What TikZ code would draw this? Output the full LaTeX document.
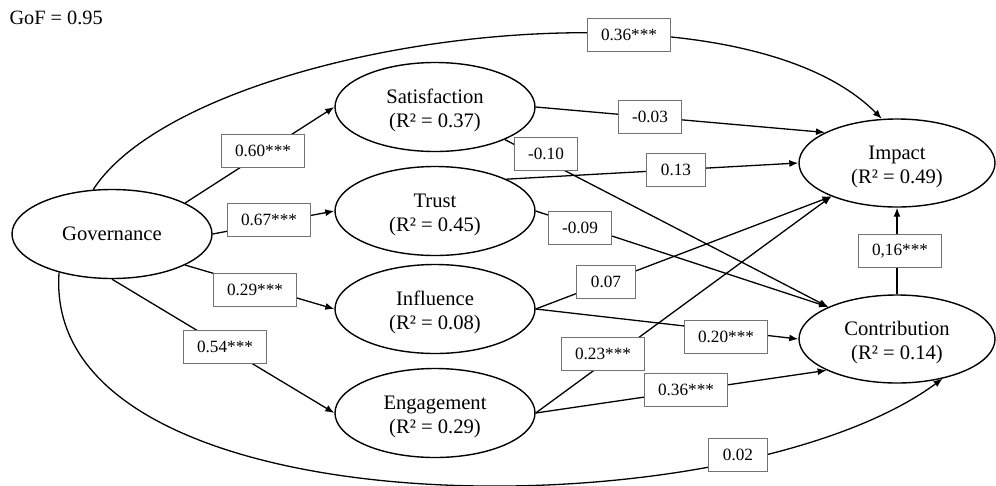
\documentclass[tikz,border=0pt]{standalone}
\usepackage{fontspec}
\setmainfont{Liberation Serif}
\usetikzlibrary{arrows.meta,shapes.geometric}
\newcommand\mytopstrut{\rule{0pt}{21.5pt}}
\begin{document}
\begin{tikzpicture}[x=1pt,y=-1pt,
  lat/.style={ellipse, draw, line width=1.4pt, minimum width=200pt, minimum height=89pt, inner sep=0pt, align=center, font=\fontsize{20.6}{24}\selectfont},
  latr/.style={lat, minimum width=196pt, minimum height=88pt},
  lbl/.style={draw=black!55, line width=1pt, fill=white, minimum height=33pt, inner xsep=14pt, inner ysep=0pt, font=\fontsize{17.2}{20}\selectfont},
  conn/.style={line width=1.3pt, -{Latex[length=9pt,width=7pt]}},
]
\useasboundingbox (0,0) rectangle (996,485);

\node[anchor=base west, font=\fontsize{20.3}{24}\selectfont] (gof) at (6,24) {GoF = 0.95};

\node[lat] (gov) at (112,234) {Governance};
\node[lat] (sat) at (435,107) {\mytopstrut Satisfaction\\(R² = 0.37)};
\node[lat] (tru) at (435,211) {\mytopstrut Trust\\(R² = 0.45)};
\node[lat] (inf) at (435,309) {\mytopstrut Influence\\(R² = 0.08)};
\node[lat] (eng) at (435,413) {\mytopstrut Engagement\\(R² = 0.29)};
\node[latr] (imp) at (897,163) {\mytopstrut Impact\\(R² = 0.49)};
\node[latr] (con) at (897,339) {\mytopstrut Contribution\\(R² = 0.14)};

% connectors
\draw[conn] (gov.113) .. controls (190,40) and (730,-35) .. (imp.109);
\draw[conn] (gov.216) .. controls (40,535) and (730,535) .. (con.-41);
\draw[conn] (gov.23.6) -- (sat.west);
\draw[conn] (gov.east) -- (tru.west);
\draw[conn] (gov.-23.6) -- (inf.west);
\draw[conn] (gov.south) -- (eng.west);
\draw[conn] (sat.east) -- (imp.157);
\draw[conn] (sat.-25) -- (con.155);
\draw[conn] (tru.24) -- (imp.west);
\draw[conn] (tru.east) -- (con.155);
\draw[conn] (inf.east) -- (imp.207);
\draw[conn] (inf.east) -- (con.west);
\draw[conn] (eng.east) -- (imp.207);
\draw[conn] (eng.east) -- (con.204);
\draw[conn] (con.north) -- (imp.south);

% labels
\node[lbl] (l36t) at (629,35) {0.36***};
\node[lbl] (l60) at (263,151) {0.60***};
\node[lbl] (l67) at (269,220) {0.67***};
\node[lbl] (l29) at (255,290) {0.29***};
\node[lbl] (l54) at (225,347) {0.54***};
\node[lbl] (lm03) at (650,117) {-0.03};
\node[lbl] (lm10) at (546,154) {-0.10};
\node[lbl] (l13) at (676,170) {0.13};
\node[lbl] (lm09) at (580,228) {-0.09};
\node[lbl] (l07) at (606,282) {0.07};
\node[lbl] (l20) at (726,337) {0.20***};
\node[lbl] (l23) at (603,354) {0.23***};
\node[lbl] (l36) at (686,390) {0.36***};
\node[lbl] (l02) at (738,455) {0.02};
\node[lbl] (l16) at (900,251) {0,16***};
\end{tikzpicture}
\end{document}
